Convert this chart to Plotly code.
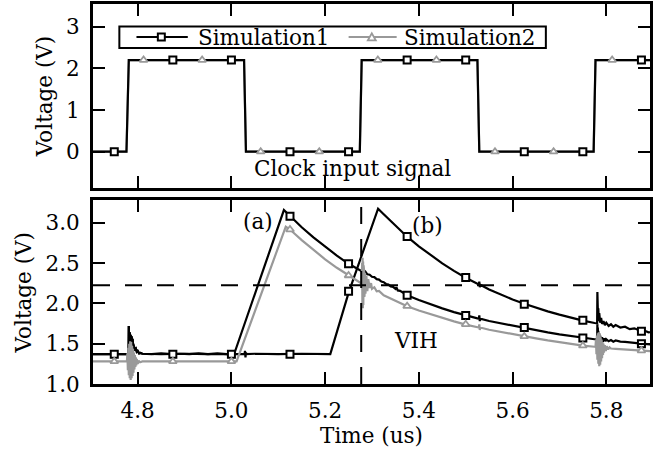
import plotly.graph_objects as go

FONT = "DejaVu Serif"
FS = 21.5
GRAY = "#999999"
BLACK = "#000000"

# ---------------- top panel: clock input signal ----------------
clk_t = [4.70, 4.776, 4.781, 5.027, 5.031, 5.274, 5.278, 5.525, 5.529, 5.773, 5.777, 5.90]
clk_sim1 = [0, 0, 2.2, 2.2, 0, 0, 2.2, 2.2, 0, 0, 2.2, 2.2]
clk_sim2 = [0, 0, 2.2, 2.2, 0, 0, 2.2, 2.2, 0, 0, 2.2, 2.2]
clk_mk1_t = [4.75, 4.875, 5.0, 5.125, 5.25, 5.375, 5.5, 5.625, 5.75, 5.875]
clk_mk1_v = [0, 2.2, 2.2, 0, 0, 2.2, 2.2, 0, 0, 2.2]
clk_mk2_t = [4.8125, 4.9375, 5.0625, 5.1875, 5.3125, 5.4375, 5.5625, 5.6875, 5.8125]
clk_mk2_v = [2.2, 2.2, 0, 0, 2.2, 2.2, 0, 0, 2.2]

# ---------------- bottom panel: output voltages ----------------
# Simulation1, response (a)
a1_t = [4.70, 4.7805, 4.781, 4.7815, 4.782, 4.7825, 4.783, 4.784, 4.785, 4.786, 4.787, 4.788,
        4.789, 4.790, 4.792, 4.794, 4.796, 4.798, 4.800, 4.803, 4.806, 4.81,
        4.83, 4.85, 4.87, 4.89, 4.91, 4.93, 4.95, 4.97, 4.99, 5.006,
        5.112, 5.125, 5.15, 5.175, 5.2, 5.225, 5.25, 5.275,
        5.279, 5.280, 5.281, 5.282, 5.283, 5.284, 5.285, 5.287, 5.29, 5.295, 5.30, 5.305,
        5.31, 5.315, 5.32, 5.325, 5.33, 5.335, 5.34, 5.345, 5.35, 5.352, 5.355, 5.36,
        5.375, 5.4, 5.425, 5.45, 5.475, 5.5, 5.525, 5.528, 5.529, 5.530, 5.531,
        5.55, 5.575, 5.6, 5.625, 5.65, 5.675, 5.7, 5.725, 5.75, 5.775,
        5.7805, 5.781, 5.7815, 5.782, 5.7825, 5.783, 5.784, 5.785, 5.786, 5.787, 5.789,
        5.791, 5.793, 5.796, 5.799, 5.80, 5.805, 5.81, 5.815, 5.82, 5.83, 5.84, 5.85, 5.875, 5.9]
a1_v = [1.37, 1.37, 1.72, 1.46, 1.68, 1.48, 1.64, 1.50, 1.61, 1.51, 1.59, 1.52,
        1.56, 1.50, 1.47, 1.43, 1.44, 1.40, 1.41, 1.38, 1.385, 1.375,
        1.37, 1.38, 1.37, 1.375, 1.37, 1.38, 1.37, 1.38, 1.37, 1.375,
        3.157, 3.08, 2.943, 2.817, 2.70, 2.592, 2.49, 2.40,
        2.395, 2.45, 2.34, 2.43, 2.36, 2.41, 2.37, 2.385, 2.36, 2.355, 2.33, 2.325,
        2.30, 2.295, 2.27, 2.262, 2.24, 2.232, 2.21, 2.205, 2.18, 2.20, 2.16, 2.155,
        2.10, 2.042, 1.988, 1.938, 1.891, 1.848, 1.813, 1.81, 1.85, 1.78, 1.81,
        1.781, 1.751, 1.722, 1.696, 1.667, 1.640, 1.616, 1.593, 1.571, 1.555,
        1.553, 1.74, 1.46, 1.70, 1.48, 1.66, 1.50, 1.63, 1.51, 1.60, 1.52,
        1.58, 1.525, 1.565, 1.53, 1.555, 1.53, 1.545, 1.525, 1.54, 1.525, 1.522, 1.513, 1.50, 1.488]

# Simulation1, response (b)
b1_t = [4.70, 4.7805, 4.781, 4.7815, 4.782, 4.7825, 4.783, 4.784, 4.785, 4.786, 4.787, 4.788,
        4.789, 4.790, 4.792, 4.794, 4.796, 4.798, 4.800, 4.803, 4.806, 4.81,
        4.85, 4.90, 4.95, 5.0, 5.028, 5.029, 5.030, 5.031, 5.032, 5.05, 5.10, 5.15, 5.211,
        5.25, 5.313, 5.325, 5.35, 5.375, 5.4, 5.425, 5.45, 5.475, 5.5, 5.525,
        5.528, 5.529, 5.530, 5.531, 5.55, 5.575, 5.6, 5.625, 5.65, 5.675, 5.7, 5.725, 5.75, 5.775,
        5.7805, 5.781, 5.7815, 5.782, 5.7825, 5.783, 5.784, 5.785, 5.787, 5.789, 5.791, 5.794,
        5.797, 5.80, 5.805, 5.81, 5.815, 5.82, 5.83, 5.84, 5.85, 5.86, 5.87, 5.875, 5.88, 5.89, 5.9]
b1_v = [1.37, 1.37, 1.72, 1.46, 1.68, 1.48, 1.64, 1.50, 1.61, 1.51, 1.59, 1.52,
        1.56, 1.50, 1.47, 1.43, 1.44, 1.40, 1.41, 1.38, 1.385, 1.375,
        1.37, 1.375, 1.37, 1.375, 1.37, 1.41, 1.33, 1.39, 1.37, 1.375, 1.37, 1.375, 1.37,
        2.13, 3.174, 3.105, 2.97, 2.826, 2.707, 2.597, 2.496, 2.403, 2.317, 2.242,
        2.235, 2.27, 2.20, 2.23, 2.172, 2.108, 2.048, 1.994, 1.946, 1.901, 1.860, 1.821, 1.786, 1.756,
        1.752, 2.14, 1.85, 2.02, 1.80, 1.94, 1.78, 1.88, 1.76, 1.82, 1.745, 1.78,
        1.73, 1.76, 1.72, 1.74, 1.71, 1.73, 1.70, 1.71, 1.68, 1.69, 1.66, 1.654, 1.665, 1.64, 1.645]

# Simulation2, response (a)
a2_t = [4.70, 4.777, 4.778, 4.779, 4.780, 4.781, 4.782, 4.783, 4.784, 4.785, 4.786, 4.787,
        4.788, 4.789, 4.790, 4.791, 4.792, 4.793, 4.794, 4.795, 4.796, 4.797, 4.798, 4.800,
        4.802, 4.805, 4.81, 4.90, 5.011, 5.116, 5.125, 5.15, 5.175, 5.2, 5.225, 5.25, 5.275,
        5.278, 5.279, 5.2795, 5.280, 5.2805, 5.281, 5.2815, 5.282, 5.2825, 5.283, 5.284, 5.285,
        5.286, 5.288, 5.290, 5.292, 5.295, 5.298, 5.30, 5.305, 5.31, 5.315,
        5.325, 5.35, 5.375, 5.4, 5.425, 5.45, 5.475, 5.5, 5.525, 5.528, 5.529, 5.530, 5.531,
        5.55, 5.575, 5.6, 5.625, 5.65, 5.675, 5.7, 5.725, 5.75, 5.775,
        5.777, 5.778, 5.779, 5.780, 5.781, 5.782, 5.783, 5.784, 5.785, 5.786, 5.787, 5.788,
        5.789, 5.790, 5.791, 5.792, 5.793, 5.794, 5.795, 5.797, 5.799, 5.801, 5.804, 5.807,
        5.81, 5.82, 5.85, 5.875, 5.9]
a2_v = [1.28, 1.28, 1.38, 1.17, 1.45, 1.11, 1.50, 1.07, 1.53, 1.05, 1.52, 1.07,
        1.47, 1.10, 1.43, 1.14, 1.39, 1.18, 1.36, 1.21, 1.33, 1.23, 1.31, 1.25,
        1.29, 1.27, 1.28, 1.28, 1.28, 2.95, 2.915, 2.783, 2.659, 2.546, 2.441, 2.345, 2.256,
        2.25, 2.50, 2.00, 2.565, 1.94, 2.52, 1.98, 2.47, 2.03, 2.42, 2.08, 2.38,
        2.12, 2.34, 2.15, 2.30, 2.19, 2.25, 2.18, 2.20, 2.15, 2.155,
        2.099, 2.029, 1.964, 1.912, 1.864, 1.819, 1.777, 1.737, 1.704, 1.70, 1.74, 1.67, 1.70,
        1.673, 1.644, 1.617, 1.591, 1.565, 1.540, 1.518, 1.496, 1.476, 1.462,
        1.46, 1.55, 1.37, 1.60, 1.30, 1.63, 1.25, 1.64, 1.22, 1.62, 1.24, 1.58,
        1.28, 1.55, 1.32, 1.52, 1.36, 1.50, 1.39, 1.48, 1.41, 1.47, 1.43, 1.455,
        1.44, 1.435, 1.425, 1.414, 1.404]

# marker samples
mk_a1_t = [4.75, 4.875, 5.0, 5.125, 5.25, 5.375, 5.5, 5.625, 5.75, 5.875]
mk_a1_v = [1.37, 1.37, 1.37, 3.08, 2.49, 2.10, 1.85, 1.70, 1.57, 1.50]
mk_b1_t = [5.125, 5.25, 5.375, 5.5, 5.625, 5.75, 5.875]
mk_b1_v = [1.37, 2.15, 2.83, 2.32, 1.99, 1.79, 1.655]
mk_a2_t = [4.75, 4.875, 5.0, 5.125, 5.25, 5.375, 5.5, 5.625, 5.75, 5.875]
mk_a2_v = [1.28, 1.28, 1.28, 2.915, 2.345, 1.965, 1.74, 1.59, 1.475, 1.415]

VIH = 2.225
T_EDGE = 5.277

x_ticks = [4.8, 5.0, 5.2, 5.4, 5.6, 5.8]
y_top_ticks = [0, 1, 2, 3]
y_bot_ticks = [1.0, 1.5, 2.0, 2.5, 3.0]

series_names = ["Simulation1", "Simulation2"]

# ---------------- layout geometry (pixels) ----------------
W, H = 653, 456
ML, MR, MT, MB = 93, 0, 4, 72
PW, PH = W - ML - MR, H - MT - MB


def px(xp):
    return (xp - ML) / PW


def py(yp):
    return (H - MB - yp) / PH


LW = 2.2
SQ = dict(symbol="square", size=7, color="white", line=dict(color=BLACK, width=2))
TR = dict(symbol="triangle-up", size=7, color="white", line=dict(color=GRAY, width=1.8))

fig = go.Figure()

# top panel
fig.add_trace(go.Scatter(x=clk_t, y=clk_sim2, mode="lines", line=dict(color=GRAY, width=LW),
                         xaxis="x2", yaxis="y2", name=series_names[1], hoverinfo="skip"))
fig.add_trace(go.Scatter(x=clk_t, y=clk_sim1, mode="lines", line=dict(color=BLACK, width=LW),
                         xaxis="x2", yaxis="y2", name=series_names[0], hoverinfo="skip"))
fig.add_trace(go.Scatter(x=clk_mk1_t, y=clk_mk1_v, mode="markers", marker=SQ,
                         xaxis="x2", yaxis="y2", name=series_names[0]))
fig.add_trace(go.Scatter(x=clk_mk2_t, y=clk_mk2_v, mode="markers", marker=TR,
                         xaxis="x2", yaxis="y2", name=series_names[1]))

# bottom panel
fig.add_trace(go.Scatter(x=b1_t, y=b1_v, mode="lines", line=dict(color=BLACK, width=LW),
                         xaxis="x", yaxis="y", name=series_names[0] + " (b)", hoverinfo="skip"))
fig.add_trace(go.Scatter(x=a1_t, y=a1_v, mode="lines", line=dict(color=BLACK, width=LW),
                         xaxis="x", yaxis="y", name=series_names[0] + " (a)", hoverinfo="skip"))
fig.add_trace(go.Scatter(x=a2_t, y=a2_v, mode="lines", line=dict(color=GRAY, width=LW),
                         xaxis="x", yaxis="y", name=series_names[1] + " (a)", hoverinfo="skip"))
fig.add_trace(go.Scatter(x=mk_a1_t, y=mk_a1_v, mode="markers", marker=SQ,
                         xaxis="x", yaxis="y", name=series_names[0]))
fig.add_trace(go.Scatter(x=mk_b1_t, y=mk_b1_v, mode="markers", marker=SQ,
                         xaxis="x", yaxis="y", name=series_names[0]))
fig.add_trace(go.Scatter(x=mk_a2_t, y=mk_a2_v, mode="markers", marker=TR,
                         xaxis="x", yaxis="y", name=series_names[1]))

axis_common = dict(showline=True, linewidth=3, linecolor=BLACK, mirror="ticks",
                   ticks="inside", ticklen=12, tickwidth=2, tickcolor=BLACK,
                   showgrid=False, zeroline=False,
                   tickfont=dict(family=FONT, size=FS, color=BLACK))

# ---------------- legend (matplotlib-style compact box) ----------------
LEG_BOX = (119.5, 26.5, 548.3, 48.0)      # x0, y0, x1, y1 in px
LEG_YC = 37.0
LEG_ITEMS = [  # line x0, line x1, marker centre, text left
    (136.7, 188.3, 161.7, 198.3),
    (350.0, 398.3, 373.3, 406.0),
]
shapes = [
    dict(type="rect", xref="paper", yref="paper",
         x0=px(LEG_BOX[0]), x1=px(LEG_BOX[2]), y0=py(LEG_BOX[3]), y1=py(LEG_BOX[1]),
         line=dict(color=BLACK, width=2), fillcolor="white", layer="above"),
]
annotations = []
for i, (lx0, lx1, mc, tx) in enumerate(LEG_ITEMS):
    col = BLACK if i == 0 else GRAY
    shapes.append(dict(type="line", xref="paper", yref="paper", x0=px(lx0), x1=px(lx1),
                       y0=py(LEG_YC), y1=py(LEG_YC), line=dict(color=col, width=LW), layer="above"))
    if i == 0:
        h = 3.5
        shapes.append(dict(type="rect", xref="paper", yref="paper",
                           x0=px(mc - h), x1=px(mc + h), y0=py(LEG_YC + h), y1=py(LEG_YC - h),
                           line=dict(color=BLACK, width=2), fillcolor="white", layer="above"))
    else:
        path = "M {:.5f} {:.5f} L {:.5f} {:.5f} L {:.5f} {:.5f} Z".format(
            px(mc - 4), py(LEG_YC + 3.3), px(mc + 4), py(LEG_YC + 3.3), px(mc), py(LEG_YC - 3.7))
        shapes.append(dict(type="path", xref="paper", yref="paper", path=path,
                           line=dict(color=GRAY, width=1.8), fillcolor="white", layer="above"))
    annotations.append(dict(text=series_names[i], x=px(tx - 2), y=py(LEG_YC), xref="paper", yref="paper",
                            xanchor="left", yanchor="middle", showarrow=False,
                            font=dict(family=FONT, size=FS, color=BLACK)))

shapes += [
    dict(type="line", xref="x domain", yref="y", x0=0, x1=1, y0=VIH, y1=VIH,
         line=dict(color=BLACK, width=2, dash="17px,15px")),
    dict(type="line", xref="x", yref="y domain", x0=T_EDGE, x1=T_EDGE, y0=0, y1=1,
         line=dict(color=BLACK, width=2, dash="17px,15px")),
]
annotations += [
    dict(text="Clock input signal", x=5.258, y=-0.391, xref="x2", yref="y2",
         showarrow=False, font=dict(family=FONT, size=FS)),
    dict(text="(a)", x=5.057, y=3.016, xref="x", yref="y", showarrow=False,
         font=dict(family=FONT, size=FS)),
    dict(text="(b)", x=5.418, y=2.96, xref="x", yref="y", showarrow=False,
         font=dict(family=FONT, size=FS)),
    dict(text="VIH", x=5.394, y=1.535, xref="x", yref="y", showarrow=False,
         font=dict(family=FONT, size=FS)),
]

fig.update_layout(
    width=W, height=H,
    margin=dict(l=ML, r=MR, t=MT, b=MB),
    paper_bgcolor="white", plot_bgcolor="white",
    showlegend=False,
    font=dict(family=FONT, size=FS, color=BLACK),
    xaxis=dict(domain=[0, 1], anchor="y", range=[4.7046, 5.8933], tickvals=x_ticks,
               tickformat=".1f", ticklabelstandoff=5,
               title=dict(text="Time (us)", font=dict(family=FONT, size=FS), standoff=7),
               **axis_common),
    xaxis2=dict(domain=[0, 1], anchor="y2", range=[4.7046, 5.8933], tickvals=x_ticks,
                showticklabels=False, matches="x", **axis_common),
    yaxis=dict(domain=[0, 0.4829], anchor="x", range=[1.0, 3.275], tickvals=y_bot_ticks,
               tickformat=".1f", ticklabelstandoff=6,
               title=dict(text="Voltage (V)", font=dict(family=FONT, size=FS), standoff=8),
               **axis_common),
    yaxis2=dict(domain=[0.5158, 1], anchor="x2", range=[-0.871, 3.545], tickvals=y_top_ticks,
                tickformat="d", ticklabelstandoff=6,
                title=dict(text="Voltage (V)", font=dict(family=FONT, size=FS), standoff=8),
                **axis_common),
    shapes=shapes,
    annotations=annotations,
)

fig.write_html("out.html")
